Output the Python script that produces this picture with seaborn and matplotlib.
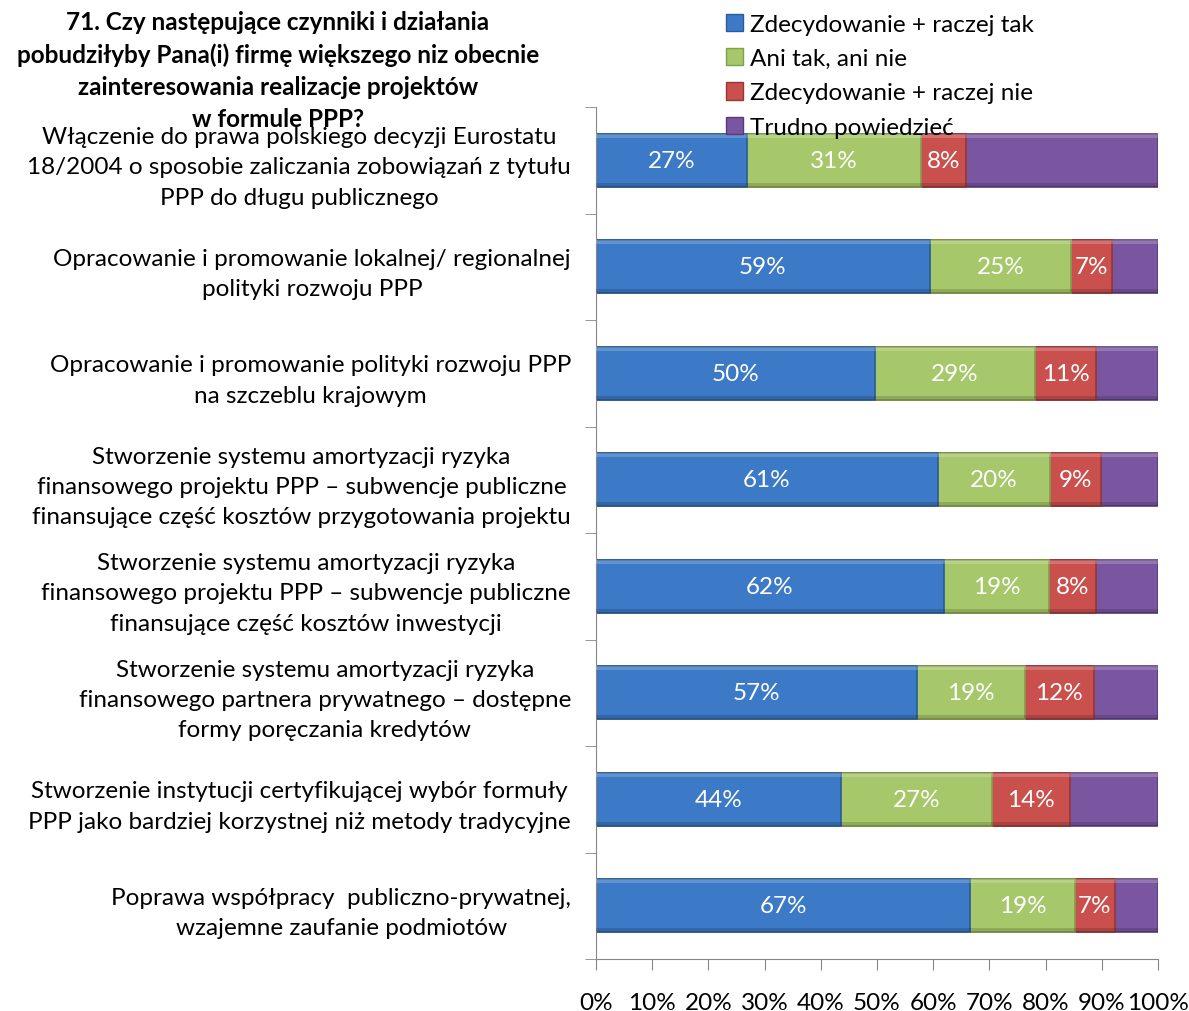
import numpy as np
import pandas as pd
import matplotlib
matplotlib.use('Agg')
import matplotlib.pyplot as plt
import seaborn as sns
from matplotlib.patches import Patch, Rectangle

categories = [
    "Włączenie do prawa polskiego decyzji Eurostatu\n18/2004 o sposobie zaliczania zobowiązań z tytułu\nPPP do długu publicznego",
    "Opracowanie i promowanie lokalnej/ regionalnej\npolityki rozwoju PPP",
    "Opracowanie i promowanie polityki rozwoju PPP\nna szczeblu krajowym",
    "Stworzenie systemu amortyzacji ryzyka\nfinansowego projektu PPP – subwencje publiczne\nfinansujące część kosztów przygotowania projektu",
    "Stworzenie systemu amortyzacji ryzyka\nfinansowego projektu PPP – subwencje publiczne\nfinansujące część kosztów inwestycji",
    "Stworzenie systemu amortyzacji ryzyka\nfinansowego partnera prywatnego – dostępne\nformy poręczania kredytów",
    "Stworzenie instytucji certyfikującej wybór formuły\nPPP jako bardziej korzystnej niż metody tradycyjne",
    "Poprawa współpracy  publiczno-prywatnej,\nwzajemne zaufanie podmiotów",
]

series = ["Zdecydowanie + raczej tak", "Ani tak, ani nie",
          "Zdecydowanie + raczej nie", "Trudno powiedzieć"]

tak = [26.8, 59.4, 49.6, 60.8, 61.9, 57.2, 43.6, 66.6]
ani = [31.1, 25.1, 28.6, 19.9, 18.7, 19.1, 26.9, 18.6]
nie = [8.0, 7.3, 10.8, 9.1, 8.4, 12.3, 13.9, 7.1]
trudno = [100 - a - b - c for a, b, c in zip(tak, ani, nie)]

colors = ["#3c79c6", "#a6c76a", "#c9504d", "#7a55a0"]
edges = ["#2b5c9a", "#809f4c", "#983634", "#573b78"]

df = pd.DataFrame({"cat": categories, "tak": tak, "ani": ani,
                   "nie": nie, "trudno": trudno})
df["c1"] = df["tak"]
df["c2"] = df["c1"] + df["ani"]
df["c3"] = df["c2"] + df["nie"]
df["c4"] = df["c3"] + df["trudno"]

plt.rcParams['font.family'] = ['Lato', 'DejaVu Sans']
FS = 17.5

fig = plt.figure(figsize=(11.89, 10.12), dpi=100)
ax = fig.add_axes([596 / 1189, 1 - 960 / 1012, 562 / 1189, 852 / 1012])

# stacked bars drawn as cumulative totals, back to front
for col, c, e in zip(["c4", "c3", "c2", "c1"], colors[::-1], edges[::-1]):
    sns.barplot(data=df, x=col, y="cat", color=c, width=0.5, ax=ax,
                edgecolor=e, linewidth=1.2, saturation=1, orient="h")

# light top / dark bottom strip on each segment for the bevel look
bh = 0.5
for i in range(len(categories)):
    starts = [0, df.c1[i], df.c2[i], df.c3[i]]
    widths = [df.tak[i], df.ani[i], df.nie[i], df.trudno[i]]
    for s, w in zip(starts, widths):
        ax.add_patch(Rectangle((s, i - bh / 2), w, 0.04, facecolor='white',
                               alpha=0.2, linewidth=0, zorder=3))
        ax.add_patch(Rectangle((s, i + bh / 2 - 0.04), w, 0.04,
                               facecolor='black', alpha=0.15, linewidth=0,
                               zorder=3))

# value labels (no label for the last series)
for i in range(len(categories)):
    starts = [0, df.c1[i], df.c2[i]]
    vals = [df.tak[i], df.ani[i], df.nie[i]]
    for s, v in zip(starts, vals):
        ax.text(s + v / 2, i, f"{v:.0f}%", ha='center', va='center',
                color='white', fontsize=FS, zorder=4)

ax.set_xlim(0, 100)
ax.set_ylim(len(categories) - 0.5, -0.5)
ax.set_xlabel("")
ax.set_ylabel("")
ax.set_xticks(np.arange(0, 101, 10))
ax.set_xticklabels([f"{t}%" for t in range(0, 101, 10)], fontsize=FS)
ax.tick_params(axis='x', length=8, color='#868686', pad=16)
ax.set_yticks(range(len(categories)))
ax.set_yticklabels(categories, fontsize=FS, multialignment='center',
                   linespacing=1.55)
ax.set_yticks(np.arange(-0.5, len(categories), 1), minor=True)
ax.tick_params(axis='y', which='major', length=0, pad=18)
ax.tick_params(axis='y', which='minor', length=8, color='#868686')
for side in ['top', 'right']:
    ax.spines[side].set_visible(False)
for side in ['left', 'bottom']:
    ax.spines[side].set_color('#868686')

fig.text(278 / 1189, 1 - 11 / 1012,
         "71. Czy następujące czynniki i działania\n"
         "pobudziłyby Pana(i) firmę większego niz obecnie\n"
         "zainteresowania realizacje projektów\nw formule PPP?",
         ha='center', va='top', fontsize=FS, fontweight='bold',
         linespacing=1.47)

handles = [Patch(facecolor=c, edgecolor=e) for c, e in zip(colors, edges)]
fig.legend(handles, series, loc='upper left',
           bbox_to_anchor=(716 / 1189, 1 - 5 / 1012), frameon=False,
           fontsize=FS, handlelength=0.7, handleheight=0.7,
           handletextpad=0.3, labelspacing=0.55, borderaxespad=0)

fig.savefig("out.png", dpi=100)
